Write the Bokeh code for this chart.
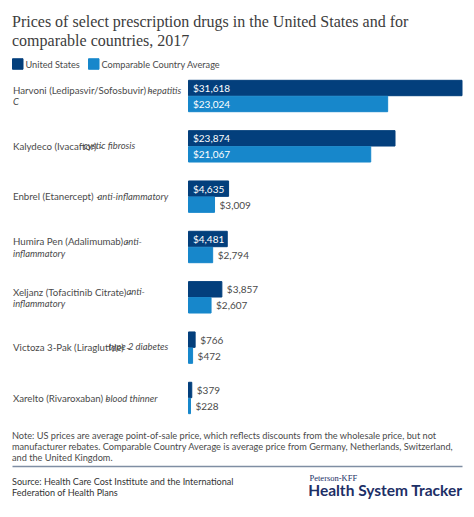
from bokeh.plotting import figure
from bokeh.models import Label, ColumnDataSource
from bokeh.core.properties import value
from bokeh.embed import file_html
from bokeh.resources import INLINE

drugs = ["Harvoni", "Kalydeco", "Enbrel", "Humira", "Xeljanz", "Victoza", "Xarelto"]
us_values = [31618, 23874, 4635, 4481, 3857, 766, 379]
comparable_values = [23024, 21067, 3009, 2794, 2607, 472, 228]
series_names = ["United States", "Comparable Country Average"]
label_roman = ["Harvoni (Ledipasvir/Sofosbuvir) - ", "Kalydeco (Ivacaftor) - ", "Enbrel (Etanercept) - ",
               "Humira Pen (Adalimumab) - ", "Xeljanz (Tofacitinib Citrate) - ",
               "Victoza 3-Pak (Liraglutide) - ", "Xarelto (Rivaroxaban) - "]
label_italic = ["hepatitis", "cystic fibrosis", "anti-inflammatory", "anti-", "anti-", "type 2 diabetes", "blood thinner"]
label_second = ["C", "", "", "inflammatory", "inflammatory", "", ""]
title_lines = ["Prices of select prescription drugs in the United States and for", "comparable countries, 2017"]
note_lines = ["Note: US prices are average point-of-sale price, which reflects discounts from the wholesale price, but not",
              "manufacturer rebates. Comparable Country Average is average price from Germany, Netherlands, Switzerland,",
              "and the United Kingdom."]
source_lines = ["Source: Health Care Cost Institute and the International", "Federation of Health Plans"]
logo_small = "Peterson-KFF"
logo_big = "Health System Tracker"

W, H = 474, 517
NAVY, BLUE, INK = "#033f7c", "#1787cb", "#4a4a4a"
SANS = "Lato"
px_per = 273.5 / 31618
x0 = 188
row = 50.33
cy0 = 95.5
bar = 15.4 / row

p = figure(width=W, height=H, output_backend="svg", toolbar_location=None,
           x_range=(-x0 / px_per, (W - x0) / px_per),
           y_range=((H - cy0) / row, -cy0 / row), min_border=0,
           x_axis_location=None, y_axis_location=None, outline_line_color=None)
p.grid.visible = False
p.background_fill_color = "white"

idx = list(range(len(drugs)))
for vals, col, off, in zip((us_values, comparable_values), (NAVY, BLUE), (-0.5, 0.5)):
    ys = [i + off * (bar + 0.6 / row) for i in idx]
    p.hbar(y=ys, left=0, right=vals, height=bar, color=col)
    inside = [v >= 4000 for v in vals]
    txt = ["$" + format(v, ",") for v in vals]
    s_in = ColumnDataSource(dict(x=[0 for v, f in zip(vals, inside) if f], y=[y for y, f in zip(ys, inside) if f],
                                 t=[t for t, f in zip(txt, inside) if f]))
    s_out = ColumnDataSource(dict(x=[v for v, f in zip(vals, inside) if not f], y=[y for y, f in zip(ys, inside) if not f],
                                  t=[t for t, f in zip(txt, inside) if not f]))
    p.text("x", "y", "t", source=s_in, x_offset=4.5, text_color="white", text_font=value(SANS),
           text_font_size="10px", text_baseline="middle")
    p.text("x", "y", "t", source=s_out, x_offset=5, text_color=INK, text_font=value(SANS),
           text_font_size="10px", text_baseline="middle")


def put(x, y, t, size="9.7px", color=INK, font=SANS, style="normal", align="left"):
    p.add_layout(Label(x=x, y=H - y, x_units="screen", y_units="screen", text=t,
                       text_font=font, text_font_size=size, text_color=color, text_font_style=style,
                       text_align=align, text_baseline="middle"))


# title
for t, y in zip(title_lines, (21, 40)):
    put(11.5, y, t, size="16px", color="#3c3c3c", font="Liberation Serif")

# legend
p.hbar(y=[(63.5 - cy0) / row], left=[(12 - x0) / px_per], right=[(22.5 - x0) / px_per], height=10.5 / row, color=NAVY)
p.hbar(y=[(63.5 - cy0) / row], left=[(88 - x0) / px_per], right=[(98.5 - x0) / px_per], height=10.5 / row, color=BLUE)
put(25, 63.5, series_names[0], size="9.2px")
put(101, 63.5, series_names[1], size="9.2px")

# drug labels
line_y = [(89.5, 101), (145, None), (195.7, None), (240.7, 252.7), (291, 303), (346, None), (397.6, None)]
italic_x = [147, 83, 97, 123, 126, 108, 105]
for r, i, s, (y1, y2), ix in zip(label_roman, label_italic, label_second, line_y, italic_x):
    put(12.5, y1, r)
    put(ix, y1, i, size="9.4px", style="italic")
    if s:
        put(12.5, y2, s, size="9.4px", style="italic")

# note
for t, y in zip(note_lines, (435, 446, 457)):
    put(11.5, y, t, size="9.2px")

# rule
p.line(x=[(12 - x0) / px_per, (462 - x0) / px_per], y=[(466 - cy0) / row] * 2, line_color="#7f8ea3", line_width=1.5)

for t, y in zip(source_lines, (480.5, 491.5)):
    put(11.5, y, t, size="9.1px", color="#333333")
put(309, 477, logo_small, size="8.5px", color="#1d2f66", font="Liberation Serif")
put(462, 489.5, logo_big, size="15.5px", color="#1d2f66", font="Lato", style="bold", align="right")

open("out.html", "w").write(file_html(p, INLINE))
